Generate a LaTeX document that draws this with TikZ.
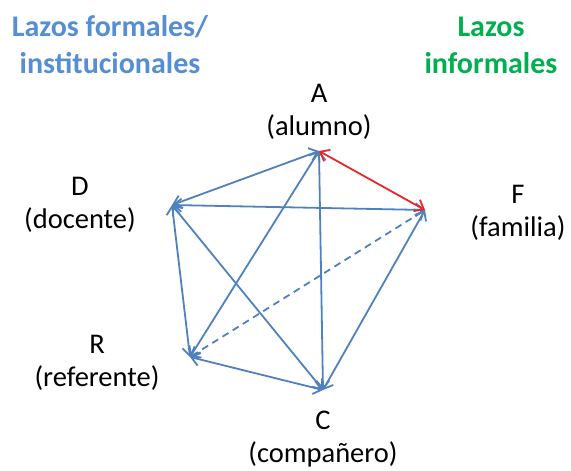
\documentclass[tikz,border=0pt]{standalone}
\usepackage{fontspec}
\setmainfont{Carlito}
\usetikzlibrary{arrows.meta}
\definecolor{lblue}{HTML}{4F81BD}
\definecolor{tblue}{HTML}{558ED5}
\definecolor{lgreen}{HTML}{00B050}
\definecolor{lred}{HTML}{E8262A}
\begin{document}
\begin{tikzpicture}[x=1pt,y=-1pt,
  lab/.style={align=center,font=\fontsize{28.5}{33}\selectfont,inner sep=0pt},
  ttl/.style={align=center,font=\bfseries\fontsize{30}{37}\selectfont,inner sep=0pt},
  link/.style={draw=lblue,line width=1.8pt,{Straight Barb[length=8pt,width=13pt]}-{Straight Barb[length=8pt,width=13pt]}},
  rlink/.style={link,draw=lred}]
\useasboundingbox (0,0) rectangle (571,471);
\node[ttl,text=tblue] (tf) at (110,45) {Lazos formales/\\institucionales};
\node[ttl,text=lgreen] (ti) at (491,45) {Lazos\\informales};
\node[lab] (lA) at (319,112) {A\\(alumno)};
\node[lab] (lD) at (80,205) {D\\(docente)};
\node[lab] (lF) at (518,213) {F\\(familia)};
\node[lab] (lR) at (97,363) {R\\(referente)};
\node[lab] (lC) at (323,439) {C\\(compañero)};
\coordinate (A) at (319,151);
\coordinate (D) at (172,205);
\coordinate (F) at (425,210);
\coordinate (R) at (190,357);
\coordinate (C) at (323,390);
\draw[link] (D) -- (A);
\draw[link] (D) -- (F);
\draw[link] (D) -- (R);
\draw[link] (D) -- (C);
\draw[link] (R) -- (A);
\draw[link] (C) -- (A);
\draw[link] (R) -- (C);
\draw[link] (C) -- (F);
\draw[link,dash pattern=on 7pt off 5pt] (R) -- (F);
\draw[rlink] (A) -- (F);
\end{tikzpicture}
\end{document}
